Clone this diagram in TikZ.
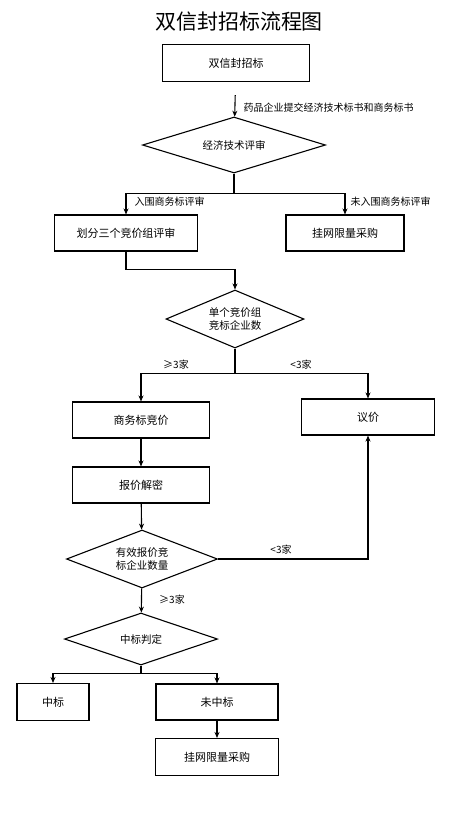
\documentclass[tikz,border=0pt]{standalone}
\usepackage{fontspec}
\setmainfont{Noto Sans CJK SC}
\usetikzlibrary{arrows.meta,shapes.geometric}

\begin{document}
\begin{tikzpicture}[x=1pt,y=-1pt,
  box/.style={draw,line width=1.1pt,inner sep=0pt,font=\fontsize{11}{13}\selectfont},
  dia/.style={box,diamond,aspect=3,align=center,font=\fontsize{10.5}{13}\selectfont},
  lbl/.style={inner sep=1pt,font=\fontsize{10}{12}\selectfont},
  >={Stealth[length=6pt,width=5pt]}, line width=1.1pt]
  \useasboundingbox (0,0) rectangle (470,815);
  \node[font=\fontsize{21}{24}\selectfont] (title) at (239,22){双信封招标流程图};
  \node[box,minimum width=147,minimum height=37] (tender) at (236,63){双信封招标};
  \node[dia,minimum width=183,minimum height=56] (review) at (234,145){经济技术评审};
  \node[box,minimum width=143,minimum height=36] (group) at (126,233){划分三个竞价组评审};
  \node[box,minimum width=118,minimum height=36] (online) at (345,233){挂网限量采购};
  \node[dia,minimum width=138,minimum height=58] (count) at (235,319){单个竞价组\\竞标企业数};
  \node[box,minimum width=137,minimum height=36] (bid) at (141,420){商务标竞价};
  \node[box,minimum width=133,minimum height=36] (talk) at (368,417){议价};
  \node[box,minimum width=137,minimum height=36] (decrypt) at (141,485){报价解密};
  \node[dia,minimum width=151,minimum height=58] (valid) at (142,559){有效报价竞\\标企业数量};
  \node[dia,minimum width=153,minimum height=52] (judge) at (141,639){中标判定};
  \node[box,minimum width=72,minimum height=37] (win) at (53,702){中标};
  \node[box,minimum width=122,minimum height=36] (lose) at (217,702){未中标};
  \node[box,minimum width=123,minimum height=37] (online2) at (217,757){挂网限量采购};
  % labels
  \node[lbl,anchor=west] (l1) at (242,108){药品企业提交经济技术标书和商务标书};
  \node[lbl,anchor=west] (l2) at (133,202){入围商务标评审};
  \node[lbl,anchor=west] (l3) at (349,202){未入围商务标评审};
  \node[lbl] (l4) at (176,365){≥3家};
  \node[lbl] (l5) at (301,365){<3家};
  \node[lbl] (l6) at (281,550){<3家};
  \node[lbl] (l7) at (172,600){≥3家};
  % connectors
  \draw[->,shorten <=13pt](tender)--(review);
  \draw[->](review.south)--++(0,20)-|(group);
  \draw[->](review.south)--++(0,20)-|(online);
  \draw[->](group.south)--++(0,18)-|(count);
  \draw[->](count.south)--++(0,25)-|(bid);
  \draw[->](count.south)--++(0,25)-|(talk);
  \draw[->](bid)--(decrypt); \draw[->](decrypt)--(valid);
  \draw[->](valid.east)-|(talk); \draw[->](valid)--(judge);
  \draw[->](judge.south)--++(0,8)-|(win);
  \draw[->](judge.south)--++(0,8)-|(lose);
  \draw[->](lose)--(online2);
\end{tikzpicture}
\end{document}
